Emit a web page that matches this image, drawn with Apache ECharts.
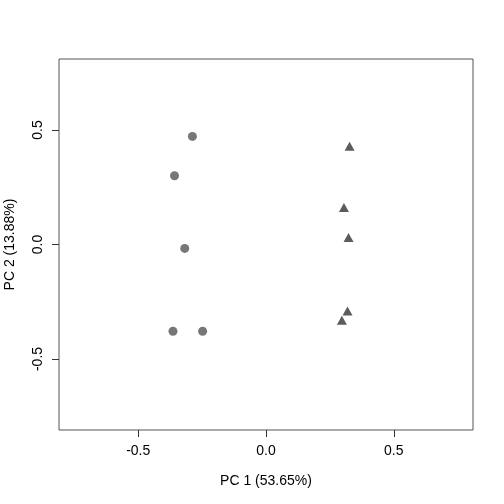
<!DOCTYPE html>
<html>
<head>
<meta charset="utf-8">
<script src="https://cdn.jsdelivr.net/npm/echarts@6/dist/echarts.min.js"></script>
<style>
  html, body { margin: 0; padding: 0; background: #fff; }
  #chart { width: 504px; height: 504px; }
</style>
</head>
<body>
<div id="chart"></div>
<script>
// group 1 (circles)
const circleX = [-0.288, -0.358, -0.318, -0.364, -0.248];
const circleY = [0.472, 0.300, -0.017, -0.379, -0.379];
// group 2 (triangles)
const triX = [0.327, 0.305, 0.323, 0.319, 0.297];
const triY = [0.429, 0.162, 0.031, -0.290, -0.331];

const tickVals = [-0.5, 0, 0.5];
const xName = 'PC 1 (53.65%)';
const yName = 'PC 2 (13.88%)';

const font = 'Liberation Sans, Arial, Helvetica, sans-serif';
const fmt = v => (Math.abs(v) < 1e-9 ? '0.0' : v.toFixed(1));

const chart = echarts.init(document.getElementById('chart'));

const option = {
  animation: false,
  backgroundColor: '#fff',
  grid: {
    left: 59, right: 31, top: 59, bottom: 74,
    outerBoundsMode: 'none',
    containLabel: false,
    show: true,
    borderColor: '#555',
    borderWidth: 1,
    backgroundColor: 'transparent'
  },
  xAxis: {
    type: 'value',
    min: -0.81, max: 0.81,
    name: xName,
    nameLocation: 'middle',
    nameGap: 44,
    nameTextStyle: { fontFamily: font, fontSize: 14, color: '#000' },
    axisLine: { show: false, onZero: false },
    splitLine: { show: false },
    axisTick: {
      show: true, inside: false, length: 7,
      customValues: tickVals,
      lineStyle: { color: '#333' }
    },
    axisLabel: {
      customValues: tickVals,
      margin: 14,
      formatter: fmt,
      fontFamily: font, fontSize: 14, color: '#000'
    }
  },
  yAxis: {
    type: 'value',
    min: -0.81, max: 0.81,
    name: yName,
    nameLocation: 'middle',
    nameGap: 42,
    nameRotate: 90,
    nameTextStyle: { fontFamily: font, fontSize: 14, color: '#000' },
    axisLine: { show: false, onZero: false },
    splitLine: { show: false },
    axisTick: {
      show: true, inside: false, length: 7,
      customValues: tickVals,
      lineStyle: { color: '#333' }
    },
    axisLabel: {
      customValues: tickVals,
      rotate: 90,
      align: 'center',
      verticalAlign: 'bottom',
      margin: 14,
      formatter: fmt,
      fontFamily: font, fontSize: 14, color: '#000'
    }
  },
  series: [
    {
      type: 'scatter',
      symbol: 'circle',
      symbolSize: 9,
      itemStyle: { color: '#555' },
      data: circleX.map((x, i) => [x, circleY[i]])
    },
    {
      type: 'scatter',
      symbol: 'triangle',
      symbolSize: [10, 9],
      itemStyle: { color: '#333' },
      data: triX.map((x, i) => [x, triY[i]])
    }
  ]
};

chart.setOption(option);
</script>
</body>
</html>
